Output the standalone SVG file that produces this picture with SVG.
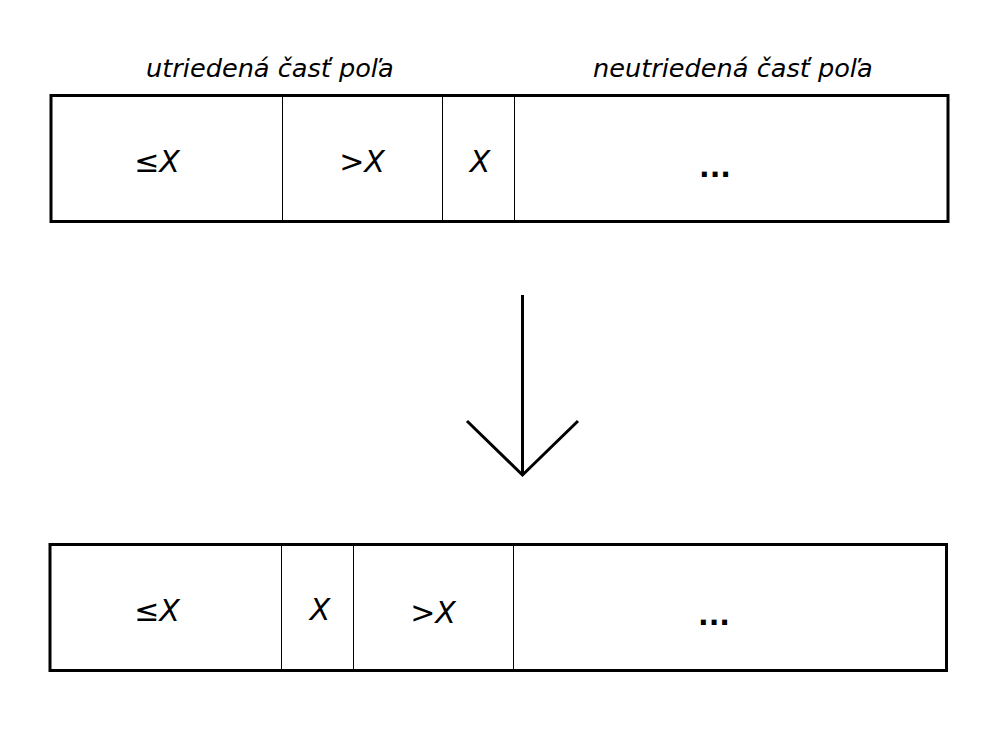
<svg xmlns="http://www.w3.org/2000/svg" width="984" height="736" viewBox="0 0 984 736">
<style>
.box{fill:none;stroke:#000;stroke-width:3}
.div{stroke:#000;stroke-width:1}
.lbl{font-family:"DejaVu Sans",sans-serif;font-style:italic;font-size:25.6px;fill:#000}
.cell{font-family:"DejaVu Sans",sans-serif;font-style:italic;font-size:30px;fill:#000;text-anchor:middle}
.dots{font-family:"DejaVu Sans",sans-serif;font-weight:bold;font-size:28px;fill:#000;text-anchor:middle}
.arr{fill:none;stroke:#000;stroke-width:3}
</style>
<rect width="984" height="736" fill="#fff"/>
<g id="labels">
<text class="lbl" x="146" y="77">utriedená časť poľa</text>
<text class="lbl" x="593" y="77">neutriedená časť poľa</text>
</g>
<g id="top-array">
<rect class="box" x="51" y="95.5" width="897" height="126"/>
<line class="div" x1="282.5" y1="95.5" x2="282.5" y2="221.5"/>
<line class="div" x1="442.5" y1="95.5" x2="442.5" y2="221.5"/>
<line class="div" x1="514.5" y1="95.5" x2="514.5" y2="221.5"/>
<text class="cell" x="157" y="172">≤X</text>
<text class="cell" x="362" y="172">&gt;X</text>
<text class="cell" x="480" y="172">X</text>
<text class="dots" x="715" y="177">...</text>
</g>
<g id="connectors">
<line class="arr" x1="522.5" y1="295" x2="522.5" y2="475"/>
<polyline class="arr" points="467,421 522.5,475 578,421"/>
</g>
<g id="bottom-array">
<rect class="box" x="50" y="544.5" width="896.5" height="126"/>
<line class="div" x1="281.5" y1="544.5" x2="281.5" y2="670.5"/>
<line class="div" x1="353.5" y1="544.5" x2="353.5" y2="670.5"/>
<line class="div" x1="513.5" y1="544.5" x2="513.5" y2="670.5"/>
<text class="cell" x="157" y="621">≤X</text>
<text class="cell" x="320" y="620">X</text>
<text class="cell" x="433" y="623">&gt;X</text>
<text class="dots" x="714" y="625">...</text>
</g>
</svg>
